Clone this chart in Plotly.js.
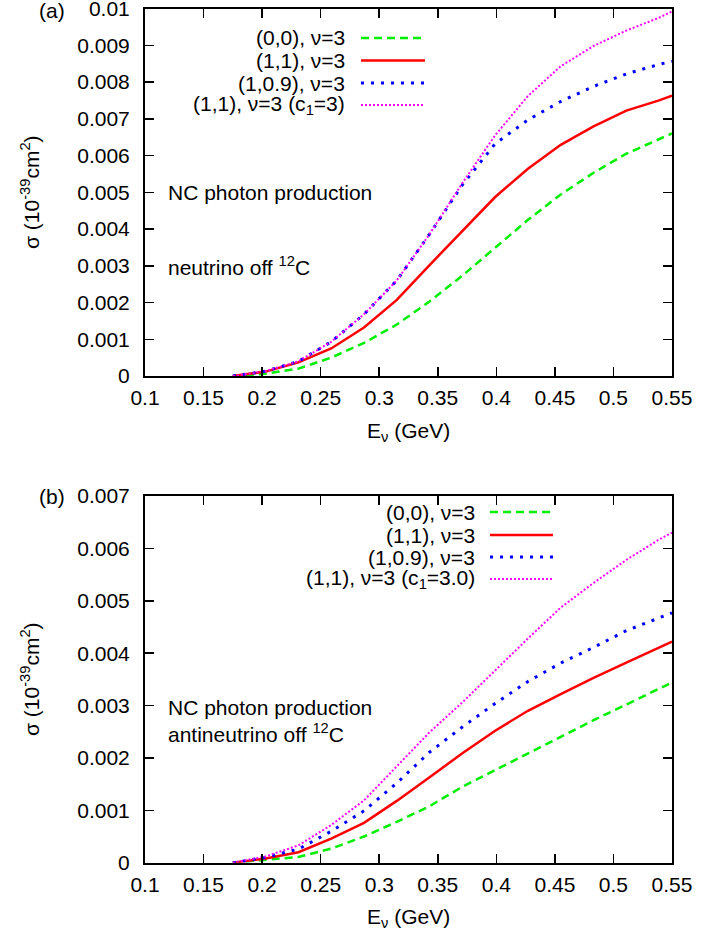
<!DOCTYPE html>
<html>
<head>
<meta charset="utf-8">
<script src="https://cdn.plot.ly/plotly-3.0.1.min.js"></script>
<style>html,body{margin:0;padding:0;background:#fff;}#chart{width:701px;height:934px;}</style>
</head>
<body>
<div id="chart"></div>
<script>
// ---- data ----
const energy = [0.175, 0.203, 0.231, 0.259, 0.287, 0.315, 0.343, 0.371, 0.399, 0.427, 0.455, 0.483, 0.511, 0.539, 0.55];

// (a) neutrino
const nuG = [0, 0.00006, 0.0002, 0.0005, 0.0009, 0.0014, 0.00203, 0.00273, 0.00349, 0.00425, 0.00494, 0.00553, 0.00605, 0.00645, 0.0066];
const nuR = [0, 0.00012, 0.00037, 0.00075, 0.00132, 0.00207, 0.00302, 0.00395, 0.00487, 0.00564, 0.00629, 0.00679, 0.00722, 0.0075, 0.00763];
const nuB = [0, 0.00013, 0.0004, 0.00093, 0.00168, 0.0026, 0.00386, 0.0052, 0.00632, 0.00697, 0.00747, 0.00788, 0.00822, 0.00848, 0.00856];
const nuM = [0, 0.00013, 0.0004, 0.00093, 0.00168, 0.0026, 0.00386, 0.00525, 0.00655, 0.00762, 0.00843, 0.00898, 0.0094, 0.00975, 0.00992];

// (b) antineutrino
const anG = [0, 0.00005, 0.00011, 0.00027, 0.0005, 0.00078, 0.00108, 0.00145, 0.00177, 0.00209, 0.00241, 0.00272, 0.00302, 0.00332, 0.00344];
const anR = [0, 0.00008, 0.0002, 0.00046, 0.00076, 0.00118, 0.00163, 0.00209, 0.00252, 0.0029, 0.00322, 0.00353, 0.00382, 0.00411, 0.00422];
const anB = [0, 0.0001, 0.00026, 0.0006, 0.00099, 0.00152, 0.00211, 0.00259, 0.00304, 0.00346, 0.00381, 0.00411, 0.00443, 0.00468, 0.00477];
const anM = [0, 0.00012, 0.00033, 0.00072, 0.00119, 0.00183, 0.00249, 0.00306, 0.00368, 0.00428, 0.00487, 0.00534, 0.00578, 0.00617, 0.0063];

const namesA = ["(0,0), ν=3", "(1,1), ν=3", "(1,0.9), ν=3", "(1,1), ν=3 (c<sub>1</sub>=3)"];
const namesB = ["(0,0), ν=3", "(1,1), ν=3", "(1,0.9), ν=3", "(1,1), ν=3 (c<sub>1</sub>=3.0)"];
const yTicksA = [0, 0.001, 0.002, 0.003, 0.004, 0.005, 0.006, 0.007, 0.008, 0.009, 0.01];
const yTickTextA = ["0", "0.001", "0.002", "0.003", "0.004", "0.005", "0.006", "0.007", "0.008", "0.009", "0.01"];

// ---- styles ----
const W = 701, H = 934;
const FONT = "Liberation Sans, Arial, sans-serif";
const FS = 21;
const styles = [
  {color: "#00ee00", width: 2.5, dash: "8px,5px"},
  {color: "#ff0000", width: 2.5, dash: "solid"},
  {color: "#0000ff", width: 3, dash: "3px,7px"},
  {color: "#ff00ff", width: 2, dash: "2px,2px"}
];
const fx = p => p / W;
const fy = p => 1 - p / H;

const traces = [];
[[nuG, nuR, nuB, nuM], [anG, anR, anB, anM]].forEach((set, k) => {
  set.forEach((ys, i) => {
    traces.push({
      x: energy, y: ys, type: "scatter", mode: "lines",
      xaxis: k === 0 ? "x" : "x2", yaxis: k === 0 ? "y" : "y2",
      line: Object.assign({}, styles[i]), showlegend: false, hoverinfo: "skip"
    });
  });
});

const axBase = {
  showline: true, linecolor: "#000", linewidth: 2, mirror: "ticks",
  ticks: "inside", ticklen: 9, tickwidth: 1.5, tickcolor: "#000",
  showgrid: false, zeroline: false, fixedrange: true,
  ticklabeloverflow: "allow",
  tickfont: {family: FONT, size: FS, color: "#000"}
};
const xBase = Object.assign({}, axBase, {range: [0.1, 0.55], dtick: 0.05, tick0: 0.1, ticklabelstandoff: 2});
const yBase = Object.assign({}, axBase, {dtick: 0.001, tick0: 0, exponentformat: "none", ticklabelstandoff: 9});

const plotL = 145, plotR = 672;
const layout = {
  width: W, height: H, margin: {l: 0, r: 0, t: 0, b: 0},
  paper_bgcolor: "#fff", plot_bgcolor: "#fff", showlegend: false,
  font: {family: FONT, size: FS, color: "#000"},
  xaxis: Object.assign({}, xBase, {domain: [fx(plotL), fx(plotR)], anchor: "y"}),
  yaxis: Object.assign({}, yBase, {domain: [fy(376), fy(8.5)], range: [0, 0.01], anchor: "x",
    tickmode: "array", tickvals: yTicksA, ticktext: yTickTextA}),
  xaxis2: Object.assign({}, xBase, {domain: [fx(plotL), fx(plotR)], anchor: "y2"}),
  yaxis2: Object.assign({}, yBase, {domain: [fy(862.7), fy(496)], range: [0, 0.0070001], anchor: "x2"}),
  annotations: [],
  shapes: []
};

function txt(text, x, y, opts) {
  layout.annotations.push(Object.assign({
    text: text, x: fx(x), y: fy(y), xref: "paper", yref: "paper",
    showarrow: false, xanchor: "left", yanchor: "middle",
    font: {family: FONT, size: FS, color: "#000"}
  }, opts || {}));
}

// panel labels
txt("(a)", 52, 11, {xanchor: "center"});
txt("(b)", 52, 496, {xanchor: "center"});
// axis titles
const yTitle = "σ (10<sup>-39</sup>cm<sup>2</sup>)";
txt(yTitle, 30, 192, {xanchor: "center", textangle: -90});
txt(yTitle, 30, 679, {xanchor: "center", textangle: -90});
txt("E<sub>ν</sub> (GeV)", 408.5, 432, {xanchor: "center"});
txt("E<sub>ν</sub> (GeV)", 408.5, 918, {xanchor: "center"});
// in-plot labels
txt("NC photon production", 166, 192);
txt("neutrino off <sup>12</sup>C", 166, 266);
txt("NC photon production", 166, 707);
txt("antineutrino off <sup>12</sup>C", 166, 733);

// legends (gnuplot style: text right, sample on the right)
function legend(names, textRight, x0, x1, rows) {
  names.forEach((n, i) => {
    txt(n, textRight, rows[i], {xanchor: "right"});
    layout.shapes.push({
      type: "line", xref: "paper", yref: "paper",
      x0: fx(x0), x1: fx(x1), y0: fy(rows[i]), y1: fy(rows[i]),
      line: Object.assign({}, styles[i])
    });
  });
}
legend(namesA, 347, 361, 425, [38, 60.5, 83, 105]);
legend(namesB, 477, 490, 553, [512, 535, 557, 579]);

Plotly.newPlot("chart", traces, layout, {staticPlot: true, displayModeBar: false});
</script>
</body>
</html>
